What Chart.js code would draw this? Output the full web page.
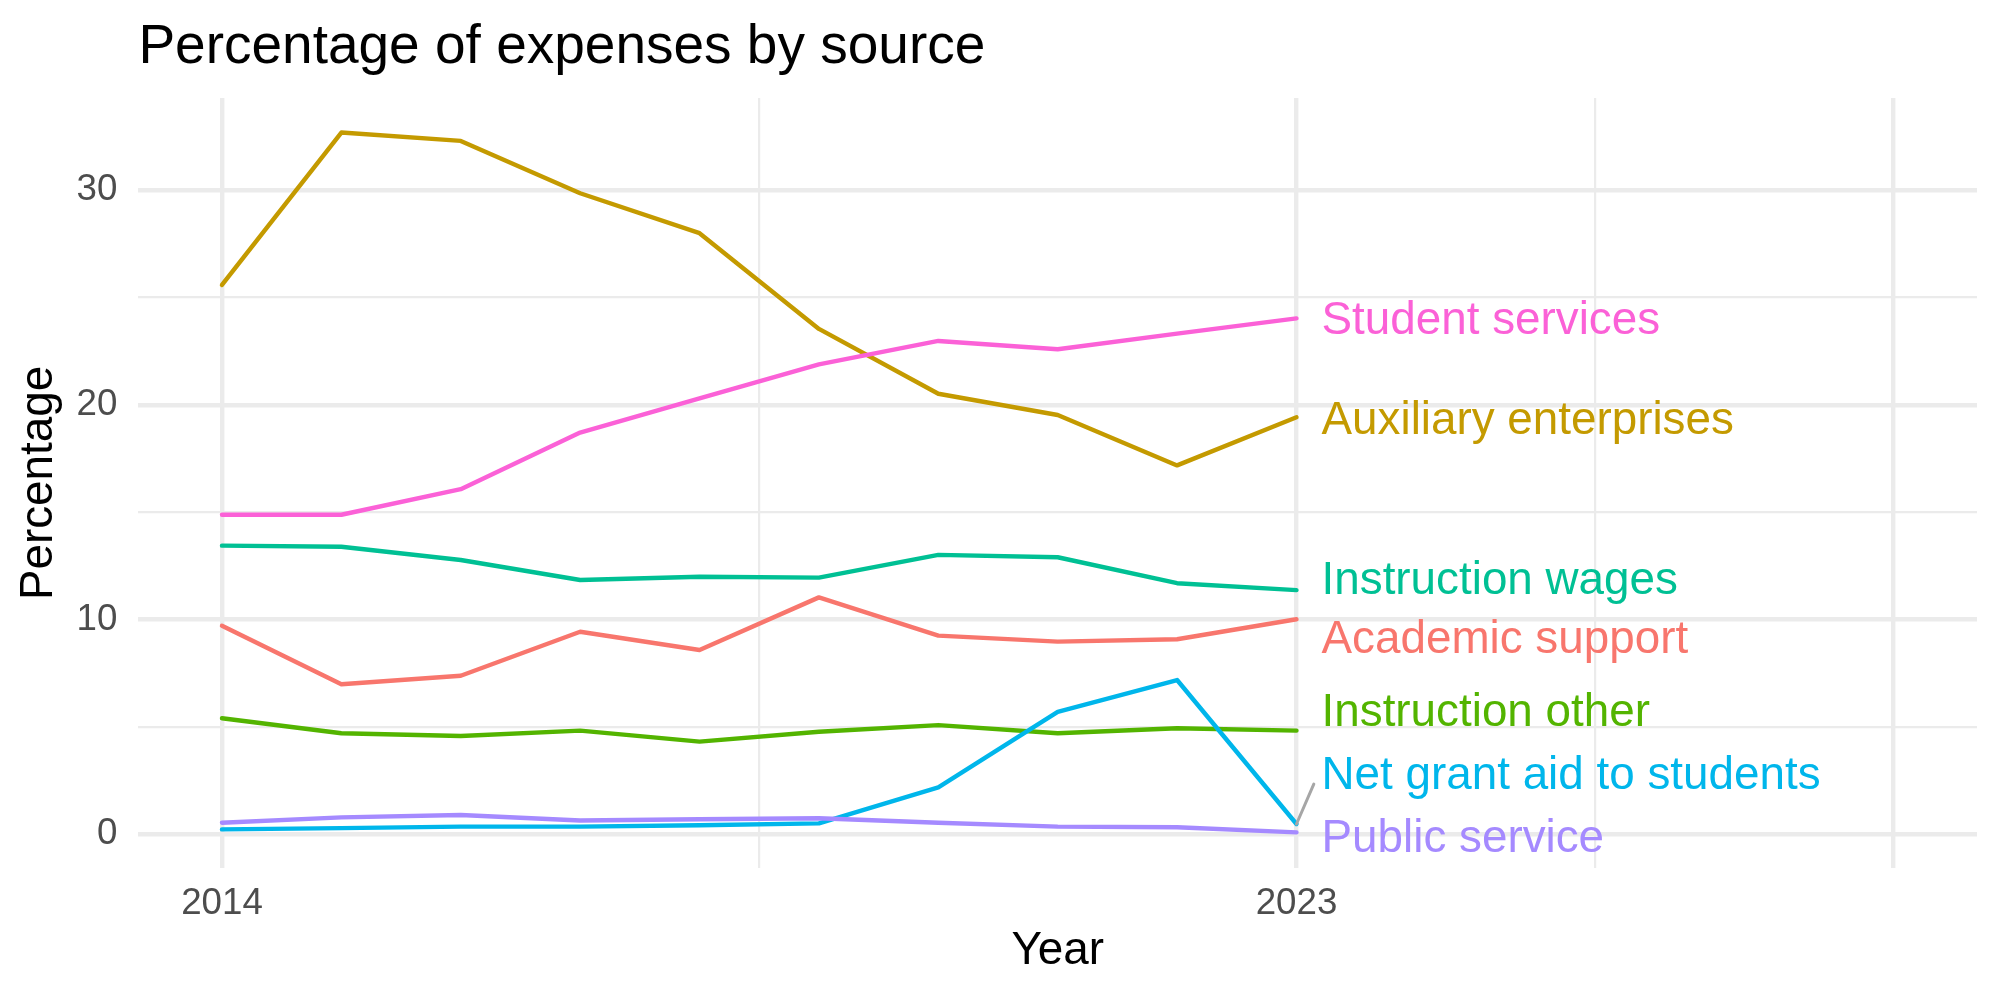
<!DOCTYPE html>
<html>
<head>
<meta charset="utf-8">
<title>Percentage of expenses by source</title>
<script src="https://cdn.jsdelivr.net/npm/chart.js@4/dist/chart.umd.min.js"></script>
<style>
  html, body { margin: 0; padding: 0; background: #ffffff; }
  #wrap { width: 2000px; height: 1000px; }
</style>
</head>
<body>
<div id="wrap"><canvas id="c" width="2000" height="1000"></canvas></div>
<script>
// ---- Data ----
const years = [2014, 2015, 2016, 2017, 2018, 2019, 2020, 2021, 2022, 2023];

const seriesNames = [
  'Academic support',
  'Auxiliary enterprises',
  'Instruction other',
  'Instruction wages',
  'Net grant aid to students',
  'Public service',
  'Student services'
];

const academicSupport      = [9.71, 6.98, 7.38, 9.43, 8.58, 11.03, 9.25, 8.97, 9.08, 10.01];
const auxiliaryEnterprises = [25.59, 32.69, 32.30, 29.86, 28.00, 23.54, 20.52, 19.53, 17.18, 19.42];
const instructionOther     = [5.40, 4.70, 4.57, 4.82, 4.31, 4.77, 5.08, 4.70, 4.93, 4.82];
const instructionWages     = [13.44, 13.39, 12.77, 11.84, 11.99, 11.95, 13.01, 12.90, 11.69, 11.37];
const netGrantAid          = [0.22, 0.28, 0.35, 0.35, 0.41, 0.50, 2.18, 5.70, 7.18, 0.47];
const publicService        = [0.53, 0.78, 0.89, 0.63, 0.69, 0.74, 0.53, 0.35, 0.32, 0.08];
const studentServices      = [14.88, 14.88, 16.07, 18.71, 20.30, 21.89, 22.98, 22.59, 23.32, 24.03];

const seriesValues = [academicSupport, auxiliaryEnterprises, instructionOther, instructionWages,
                      netGrantAid, publicService, studentServices];

const seriesColors = ['#F8766D', '#C49A00', '#53B400', '#00C094', '#00B6EB', '#A58AFF', '#FB61D7'];

// Repelled label positions (data units)
const labelX = 2023.21;
const labelY = [9.19, 19.40, 5.82, 11.96, 2.85, -0.05, 24.06];
// Leader segment ends (only where the label was pushed away)
const segmentEndX = [null, null, null, null, 2023.145, null, null];
const segmentEndY = [null, null, null, null, 2.33, null, null];

// Axis ticks
const xMajorTicks = [2014, 2023, 2028];
const xMinorTicks = [2018.5, 2025.5];
const xTickLabels = [2014, 2023];
const yMajorTicks = [0, 10, 20, 30];
const yMinorTicks = [5, 15, 25];

const titleText = 'Percentage of expenses by source';
const xTitle = 'Year';
const yTitle = 'Percentage';

// ---- Chart ----
const FONT = '"Liberation Sans", Arial, Helvetica, sans-serif';
const GRID = '#EBEBEB';

const datasets = seriesNames.map((name, i) => ({
  label: name,
  data: years.map((yr, j) => ({ x: yr, y: seriesValues[i][j] })),
  borderColor: seriesColors[i],
  backgroundColor: seriesColors[i],
  borderWidth: 4.4,
  borderCapStyle: 'round',
  borderJoinStyle: 'round',
  pointRadius: 0,
  pointHoverRadius: 0,
  tension: 0,
  fill: false,
  order: -i
}));

const bgPlugin = {
  id: 'bg',
  beforeDraw(chart) {
    const ctx = chart.ctx;
    ctx.save();
    ctx.fillStyle = '#ffffff';
    ctx.fillRect(0, 0, chart.width, chart.height);
    ctx.restore();
  }
};

const titlePlugin = {
  id: 'plotTitle',
  afterDraw(chart) {
    const ctx = chart.ctx;
    ctx.save();
    ctx.font = '55px ' + FONT;
    ctx.fillStyle = '#000000';
    ctx.textAlign = 'left';
    ctx.textBaseline = 'alphabetic';
    ctx.fillText(titleText, chart.chartArea.left, 63);
    ctx.restore();
  }
};

const labelPlugin = {
  id: 'endLabels',
  afterDatasetsDraw(chart) {
    const ctx = chart.ctx;
    const xs = chart.scales.x, ys = chart.scales.y;
    ctx.save();
    // segments
    seriesNames.forEach((name, i) => {
      if (segmentEndX[i] === null) return;
      const vals = seriesValues[i];
      ctx.beginPath();
      ctx.strokeStyle = '#A6A6A6';
      ctx.lineWidth = 3;
      ctx.lineCap = 'round';
      ctx.moveTo(xs.getPixelForValue(years[years.length - 1]), ys.getPixelForValue(vals[vals.length - 1]));
      ctx.lineTo(xs.getPixelForValue(segmentEndX[i]), ys.getPixelForValue(segmentEndY[i]));
      ctx.stroke();
    });
    // labels
    const size = 45.8;
    ctx.font = size + 'px ' + FONT;
    ctx.textAlign = 'left';
    ctx.textBaseline = 'alphabetic';
    seriesNames.forEach((name, i) => {
      ctx.fillStyle = seriesColors[i];
      ctx.fillText(name, xs.getPixelForValue(labelX), ys.getPixelForValue(labelY[i]) + 0.716 * size / 2);
    });
    ctx.restore();
  }
};

new Chart(document.getElementById('c'), {
  type: 'line',
  data: { datasets },
  plugins: [bgPlugin, labelPlugin, titlePlugin],
  options: {
    responsive: false,
    maintainAspectRatio: false,
    devicePixelRatio: 1,
    animation: false,
    events: [],
    layout: { padding: { top: 98, right: 23, bottom: 0, left: 0 } },
    plugins: {
      legend: { display: false },
      title: { display: false },
      tooltip: { enabled: false }
    },
    scales: {
      x: {
        type: 'linear',
        min: 2013.3,
        max: 2028.7,
        afterBuildTicks(scale) {
          scale.ticks = xMajorTicks.concat(xMinorTicks).sort((a, b) => a - b).map(v => ({ value: v }));
        },
        afterFit(scale) { scale.height = 132; },
        grid: {
          drawTicks: false,
          color: GRID,
          lineWidth: (c) => (c.tick && xMinorTicks.includes(c.tick.value)) ? 2.2 : 4.4
        },
        border: { display: false },
        ticks: {
          padding: 14,
          color: '#4D4D4D',
          font: { family: FONT, size: 36.7 },
          maxRotation: 0,
          autoSkip: false,
          callback: (v) => xTickLabels.includes(v) ? String(v) : ''
        },
        title: {
          display: true,
          text: xTitle,
          color: '#000000',
          font: { family: FONT, size: 45.8 },
          padding: { top: 0, bottom: 21.5 }
        }
      },
      y: {
        type: 'linear',
        min: -1.58,
        max: 34.30,
        afterBuildTicks(scale) {
          scale.ticks = yMajorTicks.concat(yMinorTicks).sort((a, b) => a - b).map(v => ({ value: v }));
        },
        afterFit(scale) { scale.width = 138.4; },
        grid: {
          drawTicks: false,
          color: GRID,
          lineWidth: (c) => (c.tick && yMinorTicks.includes(c.tick.value)) ? 2.2 : 4.4
        },
        border: { display: false },
        ticks: {
          padding: 21,
          color: '#4D4D4D',
          font: { family: FONT, size: 36.7 },
          autoSkip: false,
          callback: (v) => yMajorTicks.includes(v) ? String(v) : ''
        },
        title: {
          display: true,
          text: yTitle,
          color: '#000000',
          font: { family: FONT, size: 45.8 },
          padding: { top: 12, bottom: 0 }
        }
      }
    }
  }
});
</script>
</body>
</html>
